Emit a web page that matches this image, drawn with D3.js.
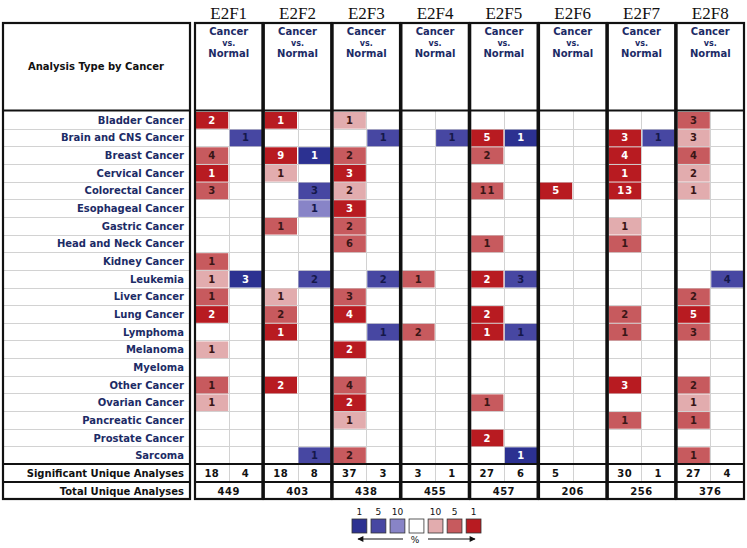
<!DOCTYPE html>
<html><head><meta charset="utf-8">
<script src="https://cdn.jsdelivr.net/npm/d3@7"></script>
<style>html,body{margin:0;padding:0;background:#fff;}svg{display:block;}</style>
</head><body>
<script>
const genes = ["E2F1","E2F2","E2F3","E2F4","E2F5","E2F6","E2F7","E2F8"];
const cancers = ["Bladder Cancer","Brain and CNS Cancer","Breast Cancer","Cervical Cancer","Colorectal Cancer","Esophageal Cancer","Gastric Cancer","Head and Neck Cancer","Kidney Cancer","Leukemia","Liver Cancer","Lung Cancer","Lymphoma","Melanoma","Myeloma","Other Cancer","Ovarian Cancer","Pancreatic Cancer","Prostate Cancer","Sarcoma"];
// counts of over-expression analyses (red), per gene, per cancer
const upCounts = [
  [2,0,4,1,3,0,0,0,1,1,1,2,0,1,0,1,1,0,0,0],
  [1,0,9,1,0,0,1,0,0,0,1,2,1,0,0,2,0,0,0,0],
  [1,0,2,3,2,3,2,6,0,0,3,4,0,2,0,4,2,1,0,2],
  [0,0,0,0,0,0,0,0,0,1,0,0,2,0,0,0,0,0,0,0],
  [0,5,2,0,11,0,0,1,0,2,0,2,1,0,0,0,1,0,2,0],
  [0,0,0,0,5,0,0,0,0,0,0,0,0,0,0,0,0,0,0,0],
  [0,3,4,1,13,0,1,1,0,0,0,2,1,0,0,3,0,1,0,0],
  [3,3,4,2,1,0,0,0,0,0,2,5,3,0,0,2,1,1,0,1]
];
// gene rank percentile level of the red cells (1, 5, 10)
const upLevels = [
  [1,0,5,1,5,0,0,0,5,10,5,1,0,10,0,5,10,0,0,0],
  [1,0,1,10,0,0,5,0,0,0,10,5,1,0,0,1,0,0,0,0],
  [10,0,5,1,10,1,5,5,0,0,5,1,0,1,0,5,1,10,0,5],
  [0,0,0,0,0,0,0,0,0,5,0,0,5,0,0,0,0,0,0,0],
  [0,1,5,0,5,0,0,5,0,1,0,1,1,0,0,0,5,0,1,0],
  [0,0,0,0,1,0,0,0,0,0,0,0,0,0,0,0,0,0,0,0],
  [0,1,1,1,1,0,10,5,0,0,0,5,5,0,0,1,0,5,0,0],
  [5,10,5,10,10,0,0,0,0,0,5,1,5,0,0,5,10,5,0,5]
];
// counts of under-expression analyses (blue)
const downCounts = [
  [0,1,0,0,0,0,0,0,0,3,0,0,0,0,0,0,0,0,0,0],
  [0,0,1,0,3,1,0,0,0,2,0,0,0,0,0,0,0,0,0,1],
  [0,1,0,0,0,0,0,0,0,2,0,0,1,0,0,0,0,0,0,0],
  [0,1,0,0,0,0,0,0,0,0,0,0,0,0,0,0,0,0,0,0],
  [0,1,0,0,0,0,0,0,0,3,0,0,1,0,0,0,0,0,0,1],
  [0,0,0,0,0,0,0,0,0,0,0,0,0,0,0,0,0,0,0,0],
  [0,1,0,0,0,0,0,0,0,0,0,0,0,0,0,0,0,0,0,0],
  [0,0,0,0,0,0,0,0,0,4,0,0,0,0,0,0,0,0,0,0]
];
const downLevels = [
  [0,5,0,0,0,0,0,0,0,1,0,0,0,0,0,0,0,0,0,0],
  [0,0,1,0,5,10,0,0,0,5,0,0,0,0,0,0,0,0,0,5],
  [0,5,0,0,0,0,0,0,0,5,0,0,5,0,0,0,0,0,0,0],
  [0,5,0,0,0,0,0,0,0,0,0,0,0,0,0,0,0,0,0,0],
  [0,1,0,0,0,0,0,0,0,5,0,0,5,0,0,0,0,0,0,1],
  [0,0,0,0,0,0,0,0,0,0,0,0,0,0,0,0,0,0,0,0],
  [0,5,0,0,0,0,0,0,0,0,0,0,0,0,0,0,0,0,0,0],
  [0,0,0,0,0,0,0,0,0,5,0,0,0,0,0,0,0,0,0,0]
];
const sigUp = [18,18,37,3,27,5,30,27];
const sigDown = [4,8,3,1,6,null,1,4];
const totalAnalyses = [449,403,438,455,457,206,256,376];
const legendLabels = ["1","5","10","","10","5","1"];
const legendKeys = ["d1","d5","d10","none","u10","u5","u1"];

const redColor = d3.scaleOrdinal().domain([1,5,10]).range(["#b81b21","#c75a5e","#e2acae"]);
const blueColor = d3.scaleOrdinal().domain([1,5,10]).range(["#2c3191","#4747a2","#8884c7"]);
const legendColor = d3.scaleOrdinal().domain(legendKeys)
  .range(["#2c3191","#4747a2","#8884c7","#ffffff","#e2acae","#c75a5e","#b81b21"]);

const W = 747, H = 548;
const svg = d3.select("body").append("svg").attr("width", W).attr("height", H);

const x = d3.scaleBand().domain(genes).range([195, 744]).paddingInner(0.02);
const xs = d3.scaleBand().domain(["up","down"]).range([0, x.bandwidth()]);
const y = d3.scaleBand().domain(cancers).range([111, 464]);
const headTop = 23, headBot = 110.5, sigTop = 464, totTop = 482, totBot = 499;
const labelFont = "'DejaVu Sans', Verdana, sans-serif";
const navy = "#1c2b66";

// gene titles
svg.append("g").selectAll("text").data(genes).join("text")
  .attr("x", d => x(d) + x.bandwidth()/2).attr("y", 19)
  .attr("text-anchor", "middle")
  .attr("font-family", "'Liberation Serif', 'Times New Roman', serif")
  .attr("font-size", 17).attr("fill", "#111").text(d => d);

// row grid (light gray)
const grid = svg.append("g").attr("stroke", "#d2d2d2").attr("stroke-width", 1);
cancers.forEach((c, i) => {
  if (i === 0) return;
  const yy = Math.round(y(c)) + 0.5;
  grid.append("line").attr("x1", 4).attr("x2", 189).attr("y1", yy).attr("y2", yy);
  genes.forEach(g => {
    grid.append("line").attr("x1", x(g)).attr("x2", x(g) + x.bandwidth()).attr("y1", yy).attr("y2", yy);
  });
});
genes.forEach(g => {
  const xx = Math.round(x(g) + xs("down")) + 0.5;
  grid.append("line").attr("x1", xx).attr("x2", xx).attr("y1", headBot).attr("y2", totTop);
});

// cells
const cellData = [];
genes.forEach((g, gi) => {
  cancers.forEach((c, ci) => {
    if (upCounts[gi][ci] > 0) cellData.push({g, c, sub: "up", n: upCounts[gi][ci], lvl: upLevels[gi][ci]});
    if (downCounts[gi][ci] > 0) cellData.push({g, c, sub: "down", n: downCounts[gi][ci], lvl: downLevels[gi][ci]});
  });
});
const cells = svg.append("g").selectAll("g").data(cellData).join("g");
cells.append("rect")
  .attr("x", d => x(d.g) + xs(d.sub) + 1).attr("y", d => y(d.c) + 1)
  .attr("width", xs.bandwidth() - 1.5).attr("height", y.bandwidth() - 1)
  .attr("fill", d => d.sub === "up" ? redColor(d.lvl) : blueColor(d.lvl));
cells.append("text")
  .attr("x", d => x(d.g) + xs(d.sub) + xs.bandwidth()/2 + 0.5)
  .attr("y", d => y(d.c) + y.bandwidth()/2 + 4)
  .attr("text-anchor", "middle").attr("font-family", labelFont).attr("font-size", 10)
  .attr("font-weight", "bold").attr("letter-spacing", 1)
  .attr("fill", d => d.lvl === 1 ? "#ffffff" : (d.sub === "up" ? "#3a1616" : "#15184a"))
  .text(d => d.n);

// row labels
svg.append("g").selectAll("text").data(cancers).join("text")
  .attr("x", 184).attr("y", d => y(d) + y.bandwidth()/2 + 4)
  .attr("text-anchor", "end").attr("font-family", labelFont).attr("font-size", 10)
  .attr("font-weight", "bold").attr("fill", navy).text(d => d);

// left box
const frame = svg.append("g").attr("fill", "none").attr("stroke", "#111").attr("stroke-width", 2.2);
frame.append("rect").attr("x", 3).attr("y", headTop).attr("width", 187).attr("height", totBot - headTop);
[headBot, sigTop, totTop].forEach(yy => frame.append("line").attr("x1", 3).attr("x2", 190).attr("y1", yy).attr("y2", yy));
svg.append("text").attr("x", 96).attr("y", 70).attr("text-anchor", "middle")
  .attr("font-family", labelFont).attr("font-size", 10).attr("font-weight", "bold")
  .attr("fill", "#111").text("Analysis Type by Cancer");
svg.append("g").selectAll("text").data(["Significant Unique Analyses","Total Unique Analyses"]).join("text")
  .attr("x", 184).attr("y", (d, i) => (i === 0 ? sigTop : totTop) + 13)
  .attr("text-anchor", "end").attr("font-family", labelFont).attr("font-size", 10)
  .attr("font-weight", "bold").attr("fill", "#111").text(d => d);

// gene group frames
genes.forEach((g, gi) => {
  const x0 = x(g), bw = x.bandwidth();
  frame.append("rect").attr("x", x0).attr("y", headTop).attr("width", bw).attr("height", totBot - headTop);
  [headBot, sigTop, totTop].forEach(yy => frame.append("line").attr("x1", x0).attr("x2", x0 + bw).attr("y1", yy).attr("y2", yy));
  const hdr = svg.append("g").attr("font-family", labelFont).attr("text-anchor", "middle")
    .attr("font-weight", "bold").attr("fill", navy);
  hdr.append("text").attr("x", x0 + bw/2).attr("y", 35).attr("font-size", 10).text("Cancer");
  hdr.append("text").attr("x", x0 + bw/2).attr("y", 45.5).attr("font-size", 8).text("vs.");
  hdr.append("text").attr("x", x0 + bw/2).attr("y", 57).attr("font-size", 10).text("Normal");
  const sg = svg.append("g").attr("font-family", labelFont).attr("font-size", 10)
    .attr("font-weight", "bold").attr("fill", "#111").attr("text-anchor", "middle").attr("letter-spacing", 0.5);
  sg.append("text").attr("x", x0 + xs("up") + xs.bandwidth()/2).attr("y", sigTop + 13).text(sigUp[gi] == null ? "" : sigUp[gi]);
  sg.append("text").attr("x", x0 + xs("down") + xs.bandwidth()/2).attr("y", sigTop + 13).text(sigDown[gi] == null ? "" : sigDown[gi]);
  sg.append("text").attr("x", x0 + bw/2).attr("y", totTop + 13).text(totalAnalyses[gi]);
});

// legend
const lx = d3.scaleBand().domain(legendKeys).range([352, 481]).paddingInner(0.22);
const leg = svg.append("g");
leg.selectAll("rect").data(legendKeys).join("rect")
  .attr("x", d => lx(d)).attr("y", 519).attr("width", lx.bandwidth()).attr("height", 14)
  .attr("fill", d => legendColor(d)).attr("stroke", "#333").attr("stroke-width", 0.8);
leg.selectAll("text").data(legendKeys).join("text")
  .attr("x", d => lx(d) + lx.bandwidth()/2).attr("y", 515).attr("text-anchor", "middle")
  .attr("font-family", labelFont).attr("font-size", 9).attr("fill", "#111")
  .text((d, i) => legendLabels[i]);
const defs = svg.append("defs");
defs.append("marker").attr("id", "ah").attr("viewBox", "0 0 10 10").attr("refX", 9).attr("refY", 5)
  .attr("markerWidth", 7).attr("markerHeight", 5).attr("orient", "auto-start-reverse")
  .append("path").attr("d", "M0,0 L10,5 L0,10 Z").attr("fill", "#111");
leg.append("line").attr("x1", 403).attr("x2", 358).attr("y1", 539).attr("y2", 539)
  .attr("stroke", "#111").attr("stroke-width", 1.2).attr("marker-end", "url(#ah)");
leg.append("line").attr("x1", 428).attr("x2", 475).attr("y1", 539).attr("y2", 539)
  .attr("stroke", "#111").attr("stroke-width", 1.2).attr("marker-end", "url(#ah)");
leg.append("text").attr("x", 415).attr("y", 543).attr("text-anchor", "middle")
  .attr("font-family", labelFont).attr("font-size", 9).attr("fill", "#111").text("%");
</script>
</body></html>
